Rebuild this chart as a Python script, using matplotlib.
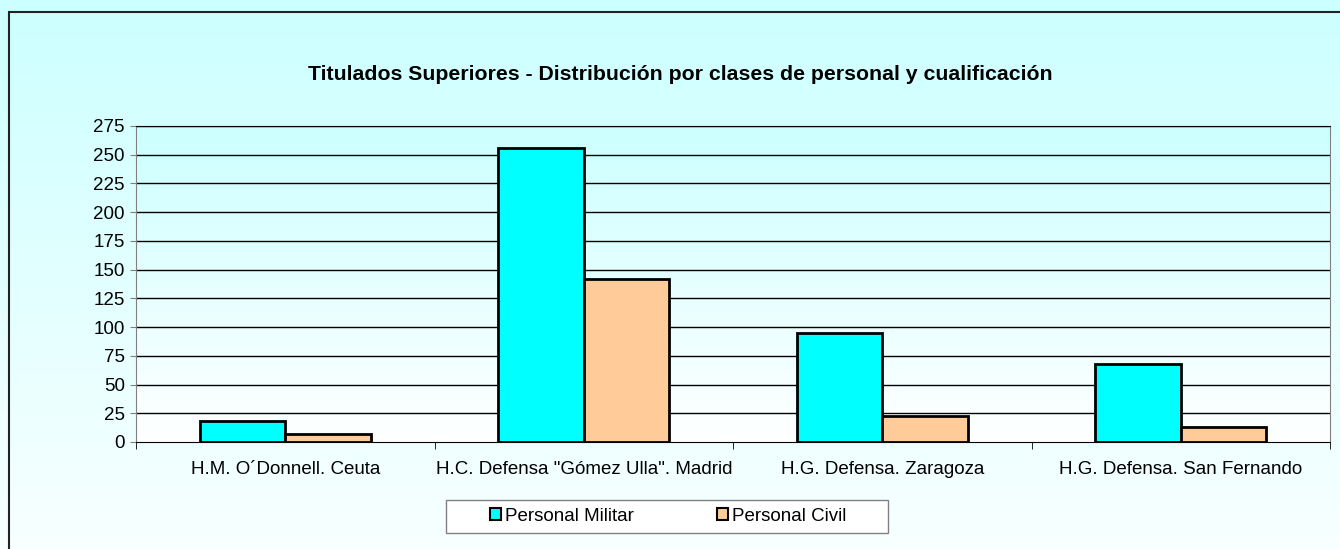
import numpy as np
import matplotlib.pyplot as plt
from matplotlib.patches import Rectangle
from matplotlib.colors import LinearSegmentedColormap

plt.rcParams['font.family'] = ['Liberation Sans', 'DejaVu Sans']

# Datos
hospitales = ['H.M. O´Donnell. Ceuta', 'H.C. Defensa "Gómez Ulla". Madrid',
              'H.G. Defensa. Zaragoza', 'H.G. Defensa. San Fernando']
militar = [18, 256, 95, 68]
civil = [7, 142, 23, 13]
yticks = list(range(0, 276, 25))

W, H = 1340, 549
fig = plt.figure(figsize=(W / 100, H / 100), dpi=100)

# fondo degradado de la figura
cmap_fig = LinearSegmentedColormap.from_list('fondo', ['#CCFFFF', '#F8FFFF'])
bg = fig.add_axes([0, 0, 1, 1], zorder=-10)
bg.imshow(np.linspace(0, 1, 256).reshape(-1, 1), aspect='auto', cmap=cmap_fig,
          extent=[0, 1, 0, 1])
bg.set_xlim(0, 1)
bg.set_ylim(0, 1)
bg.axis('off')
bg.add_patch(Rectangle((9 / W, -0.1), 1.1, 1.1 - 12 / H, fill=False,
                       edgecolor='#222222', linewidth=1.5))
# marco de la leyenda
bg.add_patch(Rectangle((446 / W, (H - 533) / H), 442 / W, 33 / H, facecolor='white',
                       edgecolor='gray', linewidth=1))

ax = fig.add_axes([136 / W, (H - 442) / H, 1194 / W, 316 / H])
ax.patch.set_alpha(0)

# degradado del área de trazado
cmap_ax = LinearSegmentedColormap.from_list('area', ['#CCFFFF', '#FFFFFF'])
ax.imshow(np.linspace(0, 1, 256).reshape(-1, 1), aspect='auto', cmap=cmap_ax,
          extent=[-0.5, 3.5, 0, 275], zorder=0)

x = np.arange(len(hospitales))
w = 0.2857
ax.bar(x - w / 2, militar, w, color='#00FFFF', edgecolor='black', linewidth=2,
       label='Personal Militar', zorder=3)
ax.bar(x + w / 2, civil, w, color='#FFCC99', edgecolor='black', linewidth=2,
       label='Personal Civil', zorder=3)

ax.set_xlim(-0.5, 3.5)
ax.set_ylim(0, 275)
ax.set_yticks(yticks)
ax.set_yticklabels([str(v) for v in yticks], fontsize=13.5)
for v in yticks[1:]:
    ax.axhline(v, color='black', linewidth=1, zorder=1)

ax.set_xticks(x)
ax.set_xticklabels(hospitales, fontsize=13.5)
ax.tick_params(axis='x', length=0, pad=14)
ax.set_xticks(np.arange(-0.5, 4, 1), minor=True)
ax.tick_params(axis='x', which='minor', length=5, color='black')
ax.tick_params(axis='y', length=4, color='gray', pad=4)

ax.spines['left'].set_color('gray')
ax.spines['right'].set_color('gray')
ax.spines['top'].set_color('black')
ax.spines['bottom'].set_color('black')
ax.spines['bottom'].set_zorder(4)

fig.text(680 / W, (H - 74) / H, 'Titulados Superiores - Distribución por clases de personal y cualificación',
         ha='center', va='center', fontsize=15.3, fontweight='bold')

leg = fig.legend(loc='center', bbox_to_anchor=(668 / W, (H - 516.5) / H), ncol=2,
                 fontsize=13.5, frameon=False,
                 handlelength=0.6, handleheight=0.6, handletextpad=0.2,
                 columnspacing=4.4, borderpad=0, borderaxespad=0)
for p in leg.get_patches():
    p.set_linewidth(1.5)

fig.savefig('out.png', dpi=100)
